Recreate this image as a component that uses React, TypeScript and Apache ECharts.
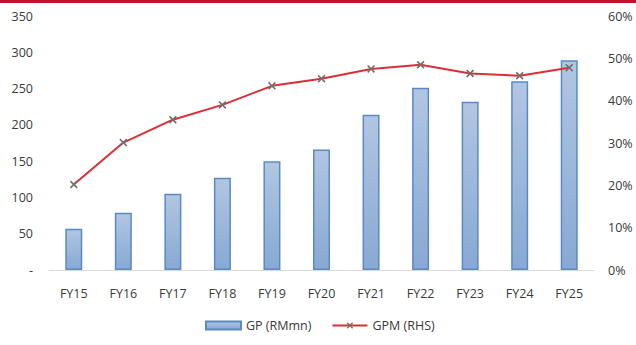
import React, { useEffect, useRef } from "react";
import * as echarts from "echarts";

const categories = ["FY15", "FY16", "FY17", "FY18", "FY19", "FY20", "FY21", "FY22", "FY23", "FY24", "FY25"];
const gpValues = [57, 79, 105, 127, 150, 166, 214, 251, 232, 260, 289];
const gpmValues = [20.2, 30.1, 35.5, 39.0, 43.5, 45.2, 47.5, 48.5, 46.4, 45.9, 47.8];
const leftTicks = { min: 0, max: 350, interval: 50 };
const rightTicks = { min: 0, max: 60, interval: 10 };

const FONT = "Open Sans";
const TEXT = "#3a3a3a";
const XMARK = "path://M1.5,0 L5,3.5 L8.5,0 L10,1.5 L6.5,5 L10,8.5 L8.5,10 L5,6.5 L1.5,10 L0,8.5 L3.5,5 L0,1.5 Z";

export default function App() {
  const ref = useRef<HTMLDivElement>(null);
  useEffect(() => {
    document.body.style.margin = "0";
    const chart = echarts.init(ref.current!, null, { renderer: "svg" });
    chart.setOption({
      animation: false,
      backgroundColor: "#ffffff",
      textStyle: { fontFamily: FONT, color: TEXT },
      graphic: [
        { type: "rect", left: 0, top: 0, shape: { width: 636, height: 3 }, style: { fill: "#c8102e" } },
      ],
      grid: { left: 49, right: 42, top: 16, bottom: 75, containLabel: false },
      legend: {
        bottom: 8,
        left: 200,
        itemWidth: 35,
        itemHeight: 8,
        itemGap: 20,
        textStyle: { fontFamily: FONT, fontSize: 12.5, color: TEXT },
        data: [
          { name: "GP (RMmn)", icon: "rect" },
          { name: "GPM (RHS)" },
        ],
      },
      xAxis: {
        type: "category",
        data: categories,
        axisTick: { show: false },
        axisLine: { lineStyle: { color: "#d9d9d9", width: 1 } },
        axisLabel: { color: TEXT, fontFamily: FONT, fontSize: 12.5, margin: 17 },
      },
      yAxis: [
        {
          type: "value",
          min: leftTicks.min,
          max: leftTicks.max,
          interval: leftTicks.interval,
          splitLine: { show: false },
          axisLine: { show: false },
          axisTick: { show: false },
          axisLabel: {
            color: TEXT,
            fontFamily: FONT,
            fontSize: 12.5,
            margin: 16,
            formatter: (v: number) => (v === 0 ? "-" : String(v)),
          },
        },
        {
          type: "value",
          min: rightTicks.min,
          max: rightTicks.max,
          interval: rightTicks.interval,
          splitLine: { show: false },
          axisLine: { show: false },
          axisTick: { show: false },
          axisLabel: {
            color: TEXT,
            fontFamily: FONT,
            fontSize: 12.5,
            margin: 14,
            formatter: (v: number) => v + "%",
          },
        },
      ],
      series: [
        {
          name: "GP (RMmn)",
          type: "bar",
          data: gpValues,
          barWidth: 17,
          yAxisIndex: 0,
          itemStyle: {
            color: new echarts.graphic.LinearGradient(0, 0, 0, 1, [
              { offset: 0, color: "#b1c6e2" },
              { offset: 1, color: "#87a9d3" },
            ]),
            borderColor: "#5a8ac4",
            borderWidth: 1.5,
          },
        },
        {
          name: "GPM (RHS)",
          type: "line",
          data: gpmValues,
          yAxisIndex: 1,
          symbol: XMARK,
          symbolSize: 8,
          showSymbol: true,
          lineStyle: { color: "#dc2f35", width: 2 },
          itemStyle: { color: "#707070", borderWidth: 0 },
          z: 3,
        },
      ],
    });
    return () => chart.dispose();
  }, []);
  return <div ref={ref} style={{ width: 636, height: 345 }} />;
}
